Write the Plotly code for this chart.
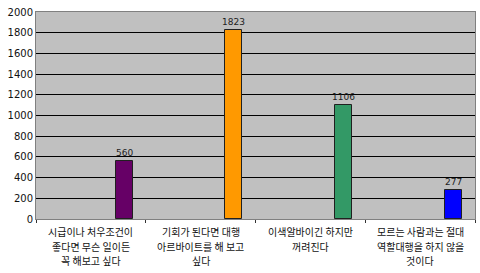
import plotly.graph_objects as go

categories = [
    "시급이나 처우조건이<br>좋다면 무슨 일이든<br>꼭 해보고 싶다",
    "기회가 된다면 대행<br>아르바이트를 해 보고<br>싶다",
    "이색알바이긴 하지만<br>꺼려진다",
    "모르는 사람과는 절대<br>역할대행을 하지 않을<br>것이다",
]
values = [560, 1823, 1106, 277]
colors = ["#660066", "#FF9900", "#339966", "#0000FF"]
y_ticks = list(range(0, 2001, 200))

font = "Noto Sans CJK KR, sans-serif"
num_font = "DejaVu Sans, Verdana, sans-serif"

fig = go.Figure(go.Bar(
    x=categories,
    y=values,
    marker=dict(color=colors, line=dict(color="#202020", width=1)),
    width=0.155,
    offset=0.225,
    cliponaxis=False,
))

annotations = []
for cat, v in zip(categories, values):
    annotations.append(dict(
        x=cat, y=v, xref="x", yref="y", text=str(v), showarrow=False,
        xshift=0.3025 * 109.75, yanchor="bottom", yshift=2, borderpad=0,
        font=dict(size=9, family=num_font, color="#222222"),
    ))
    for i, line in enumerate(cat.split("<br>")):
        annotations.append(dict(
            x=cat, y=0, xref="x", yref="paper", text=line, showarrow=False,
            yanchor="middle", yshift=-(12.5 + 14.5 * i), borderpad=0,
            font=dict(size=10, family=font, color="#111111"),
        ))

fig.update_layout(
    width=480, height=273,
    margin=dict(l=36, r=5, t=12, b=54),
    paper_bgcolor="white",
    plot_bgcolor="#C0C0C0",
    showlegend=False,
    font=dict(family=font, size=10, color="#111111"),
    bargap=0,
    annotations=annotations,
)
fig.update_xaxes(
    type="category",
    tickson="boundaries",
    ticks="outside", ticklen=3, tickcolor="#333333",
    showticklabels=False,
    showline=True, linecolor="#808080", linewidth=1, mirror=True,
    showgrid=False,
)
fig.update_yaxes(
    range=[0, 2000],
    tickvals=y_ticks,
    ticktext=[str(v) for v in y_ticks],
    showgrid=True, gridcolor="#000000", gridwidth=1,
    showline=True, linecolor="#808080", linewidth=1, mirror=True,
    ticks="", zeroline=False,
    tickfont=dict(size=10, family=num_font, color="#111111"),
)

fig.write_html("out.html")
